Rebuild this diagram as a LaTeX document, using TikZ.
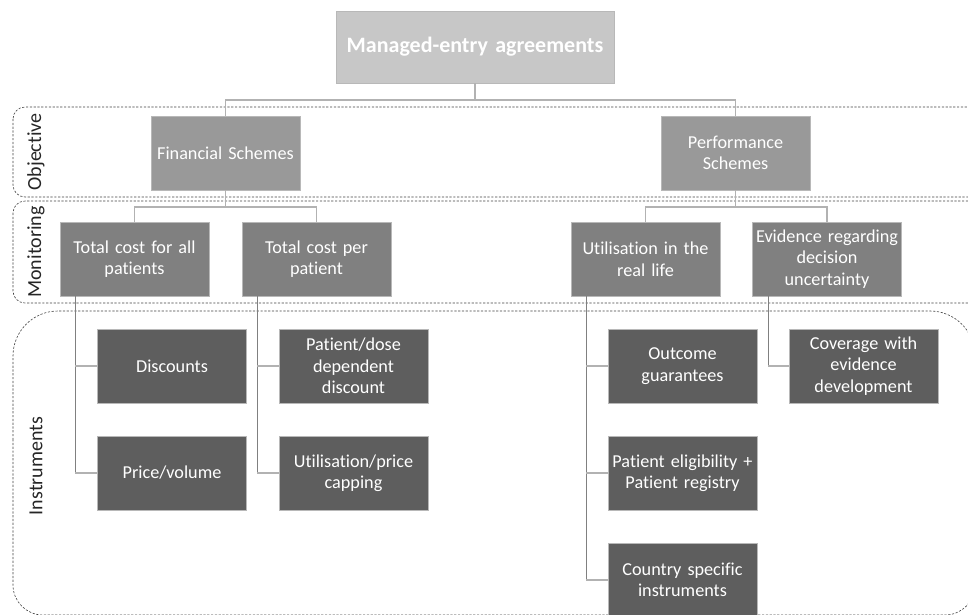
\documentclass[tikz,border=0pt]{standalone}
\usepackage{fontspec}
\setmainfont{Carlito}[Ligatures=NoCommon]
\begin{document}
\begin{tikzpicture}[x=1pt,y=-1pt,
  box/.style={draw=black!28,line width=0.7pt,minimum width=149pt,minimum height=74pt,
    text width=147pt,align=center,inner sep=0pt,text=white,
    font=\fontsize{18.2}{21.5}\selectfont},
  lvlzero/.style={box,fill=black!22,minimum width=278pt,minimum height=72pt,text width=270pt,
    font=\fontsize{22}{26}\bfseries\selectfont},
  lvlone/.style={box,fill=black!40},
  lvltwo/.style={box,fill=black!50},
  lvlthree/.style={box,fill=black!63},
  link/.style={draw=black!30,line width=1.1pt},
  stem/.style={draw=black!50,line width=0.8pt},
  zone/.style={draw=black!75,dashed,dash pattern=on 2.2pt off 1.6pt,line width=0.6pt},
  zonelabel/.style={rotate=90,font=\fontsize{20}{24}\selectfont,text=black!85}
]
\useasboundingbox (0,0) rectangle (968,614);
\clip (0,0) rectangle (968,614);

% dashed bands for the three levels
\draw[zone,rounded corners=12pt] (13,107) rectangle (980,197);
\draw[zone,rounded corners=12pt] (13,201) rectangle (980,303);
\draw[zone] (13,470) [rounded corners=45pt] -- (13,311) -- (975,311) -- (975,470)
  [rounded corners=30pt] -- (975,615) -- (13,615) -- cycle;

\node[zonelabel] (lobj) at (36,152) {Objective};
\node[zonelabel] (lmon) at (36,252) {Monitoring};
\node[zonelabel] (lins) at (36,466) {Instruments};

% boxes
\node[lvlzero] (mea) at (475,47) {Managed-entry agreements};

\node[lvlone] (fin) at (225.5,153) {Financial Schemes};
\node[lvlone] (perf) at (735.5,153) {Performance\\Schemes};

\node[lvltwo] (tall) at (134.5,259) {Total cost for all\\patients};
\node[lvltwo] (tper) at (316.5,259) {Total cost per\\patient};
\node[lvltwo] (util) at (645.5,259) {Utilisation in the\\real life};
\node[lvltwo] (evid) at (827,259) {Evidence regarding\\decision\\uncertainty};

\node[lvlthree] (disc) at (172,366) {Discounts};
\node[lvlthree] (pvol) at (172,473) {Price/volume};
\node[lvlthree] (pdose) at (353.5,366) {Patient/dose\\dependent\\discount};
\node[lvlthree] (ucap) at (353.5,473) {Utilisation/price\\capping};
\node[lvlthree] (outc) at (682.5,366) {Outcome\\guarantees};
\node[lvlthree] (elig) at (682.5,473) {Patient eligibility +\\Patient registry};
\node[lvlthree] (ctry) at (682.5,580) {Country specific\\instruments};
\node[lvlthree] (ced) at (863.5,366) {Coverage with\\evidence\\development};

% tree links between levels
\coordinate (j0) at (475,100);
\draw[link] (mea.south) -- (j0);
\draw[link] (fin.north) |- (j0) -| (perf.north);

\coordinate (j1) at (225.5,207);
\draw[link] (fin.south) -- (j1);
\draw[link] (tall.north) |- (j1) -| (tper.north);

\coordinate (j2) at (735.5,207);
\draw[link] (perf.south) -- (j2);
\draw[link] (util.north) |- (j2) -| (evid.north);

% side stems down to the instruments
\coordinate (s1) at (75,296);
\coordinate (s1b) at (75,473);
\draw[stem] (s1) -- (s1b);
\draw[link] (75,366) -- (disc.west);
\draw[link] (s1b) -- (pvol.west);

\coordinate (s2) at (257,296);
\coordinate (s2b) at (257,473);
\draw[stem] (s2) -- (s2b);
\draw[link] (257,366) -- (pdose.west);
\draw[link] (s2b) -- (ucap.west);

\coordinate (s3) at (586,296);
\coordinate (s3b) at (586,580);
\draw[stem] (s3) -- (s3b);
\draw[link] (586,366) -- (outc.west);
\draw[link] (586,473) -- (elig.west);
\draw[link] (s3b) -- (ctry.west);

\coordinate (s4) at (768,296);
\coordinate (s4b) at (768,366);
\draw[stem] (s4) -- (s4b);
\draw[link] (s4b) -- (ced.west);
\end{tikzpicture}
\end{document}
